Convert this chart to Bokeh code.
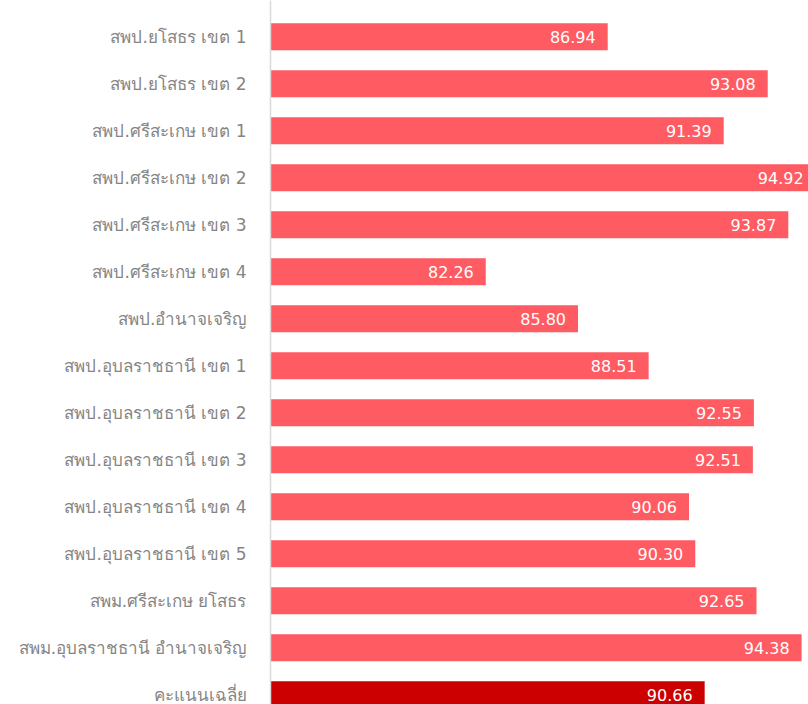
from bokeh.plotting import figure
from bokeh.models import ColumnDataSource, Range1d, FixedTicker
from bokeh.core.properties import value
from bokeh.embed import file_html
from bokeh.resources import INLINE

categories = [
    "สพป.ยโสธร เขต 1",
    "สพป.ยโสธร เขต 2",
    "สพป.ศรีสะเกษ เขต 1",
    "สพป.ศรีสะเกษ เขต 2",
    "สพป.ศรีสะเกษ เขต 3",
    "สพป.ศรีสะเกษ เขต 4",
    "สพป.อำนาจเจริญ",
    "สพป.อุบลราชธานี เขต 1",
    "สพป.อุบลราชธานี เขต 2",
    "สพป.อุบลราชธานี เขต 3",
    "สพป.อุบลราชธานี เขต 4",
    "สพป.อุบลราชธานี เขต 5",
    "สพม.ศรีสะเกษ ยโสธร",
    "สพม.อุบลราชธานี อำนาจเจริญ",
    "คะแนนเฉลี่ย",
]
scores = [86.94, 93.08, 91.39, 94.92, 93.87, 82.26, 85.80, 88.51,
          92.55, 92.51, 90.06, 90.30, 92.65, 94.38, 90.66]

BAR = "#FF5B62"
AVG = "#CC0000"
colors = [BAR] * (len(scores) - 1) + [AVG]
pos = list(range(len(categories)))

W, H = 808, 704
LEFT = 270
X0 = 74.0
PX_PER_UNIT = 26.06
PITCH = 47.0
FIRST = 36.2

src = ColumnDataSource(dict(
    y=pos,
    v=scores,
    left=[X0] * len(scores),
    lab=["%.2f" % s for s in scores],
    c=colors,
))

p = figure(width=W, height=H, output_backend="svg", toolbar_location=None,
           x_range=Range1d(X0, X0 + (W - LEFT) / PX_PER_UNIT),
           y_range=Range1d((H - FIRST) / PITCH, -FIRST / PITCH),
           min_border_left=LEFT, min_border_right=0,
           min_border_top=0, min_border_bottom=0)
p.outline_line_color = None
p.grid.visible = False
p.xaxis.visible = False

p.hbar(y="y", left="left", right="v", height=0.574, fill_color="c",
       line_color=None, source=src)
p.text(x="v", y="y", text="lab", source=src, x_offset=-12,
       text_align="right", text_baseline="middle", text_color="white",
       text_font=value("DejaVu Sans"), text_font_size="16px")

ya = p.yaxis[0]
ya.ticker = FixedTicker(ticks=pos)
ya.major_label_overrides = {i: c for i, c in enumerate(categories)}
ya.major_tick_line_color = None
ya.minor_tick_line_color = None
ya.axis_line_color = "#D9D9D9"
ya.axis_line_width = 1.5
ya.major_label_standoff = 18
ya.major_label_text_color = "#858585"
ya.major_label_text_font = "Tahoma, DejaVu Sans, sans-serif"
ya.major_label_text_font_size = "17px"

open("out.html", "w").write(file_html(p, INLINE))
